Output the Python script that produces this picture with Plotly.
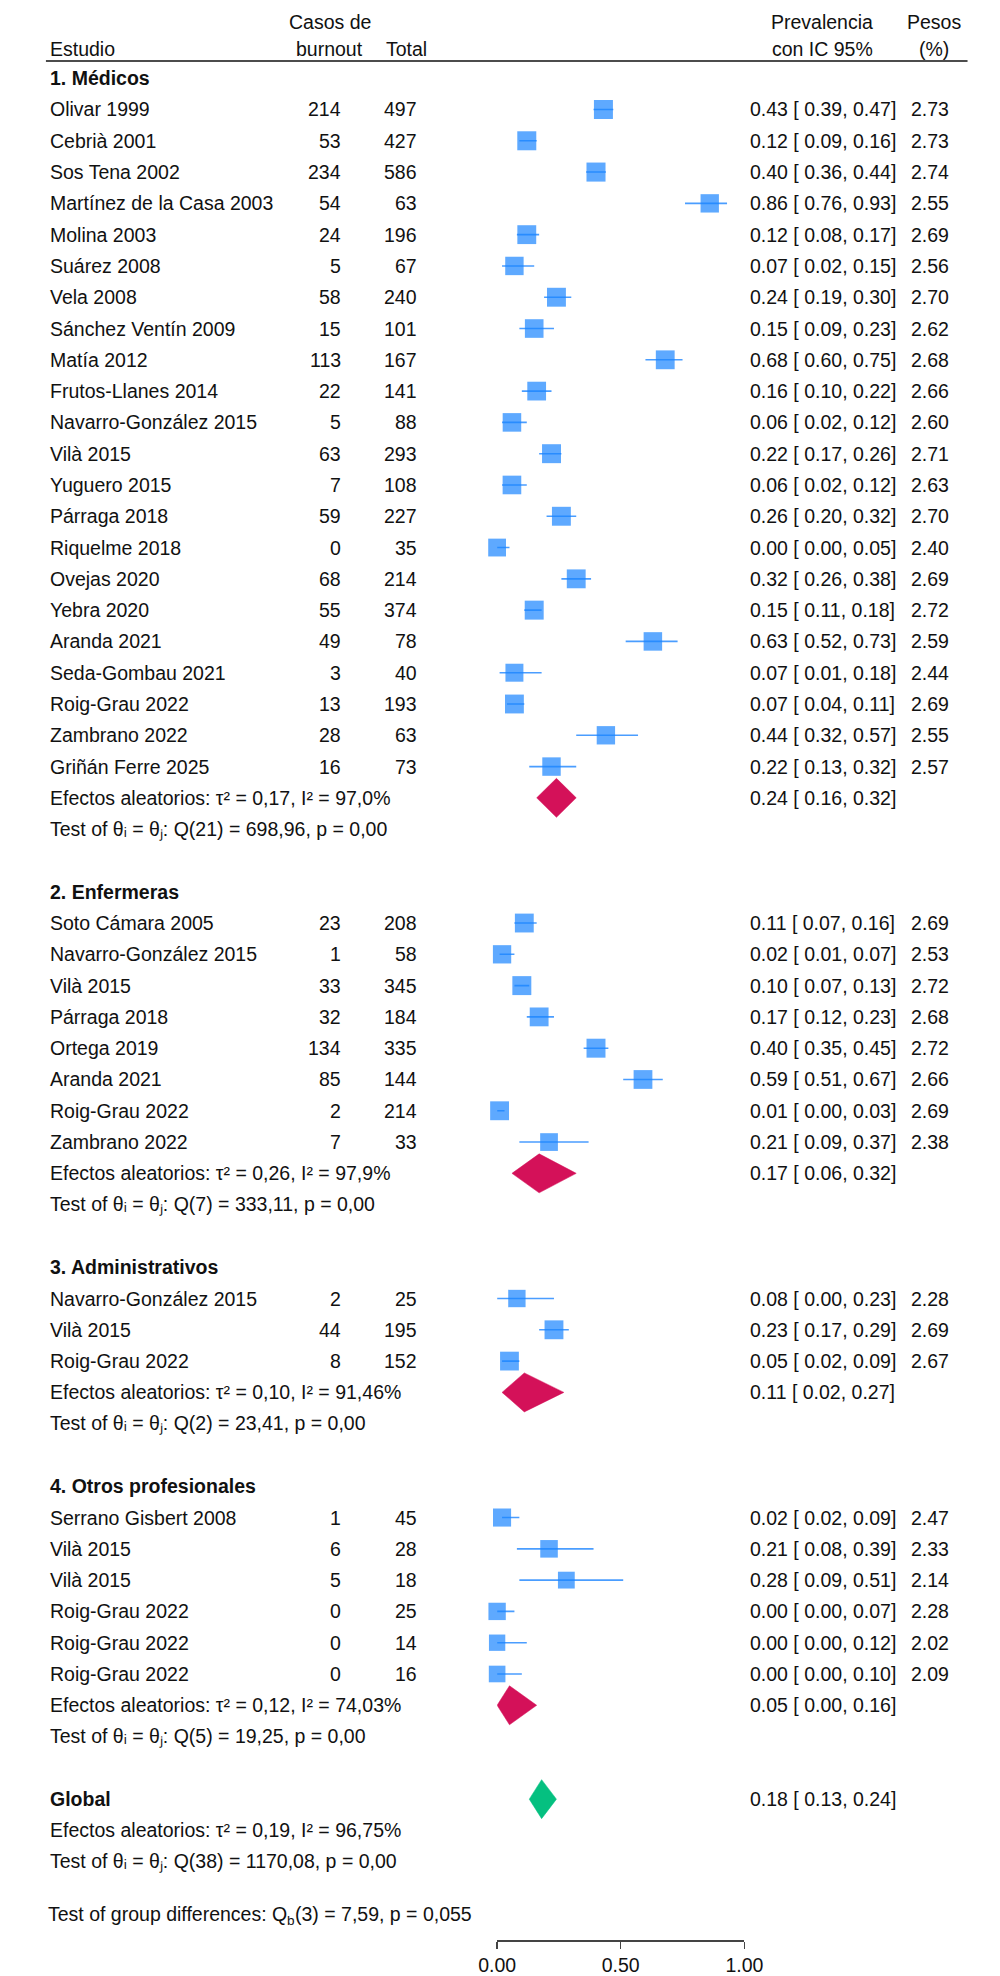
import math
import plotly.graph_objects as go

# ---------------- data ----------------
group_titles = ["1. Médicos", "2. Enfermeras", "3. Administrativos", "4. Otros profesionales"]

med_names = ["Olivar 1999", "Cebrià 2001", "Sos Tena 2002", "Martínez de la Casa 2003", "Molina 2003",
             "Suárez 2008", "Vela 2008", "Sánchez Ventín 2009", "Matía 2012", "Frutos-Llanes 2014",
             "Navarro-González 2015", "Vilà 2015", "Yuguero 2015", "Párraga 2018", "Riquelme 2018",
             "Ovejas 2020", "Yebra 2020", "Aranda 2021", "Seda-Gombau 2021", "Roig-Grau 2022",
             "Zambrano 2022", "Griñán Ferre 2025"]
med_cases = [214, 53, 234, 54, 24, 5, 58, 15, 113, 22, 5, 63, 7, 59, 0, 68, 55, 49, 3, 13, 28, 16]
med_total = [497, 427, 586, 63, 196, 67, 240, 101, 167, 141, 88, 293, 108, 227, 35, 214, 374, 78, 40, 193, 63, 73]
med_est = [0.43, 0.12, 0.40, 0.86, 0.12, 0.07, 0.24, 0.15, 0.68, 0.16, 0.06, 0.22, 0.06, 0.26, 0.00,
           0.32, 0.15, 0.63, 0.07, 0.07, 0.44, 0.22]
med_lo = [0.39, 0.09, 0.36, 0.76, 0.08, 0.02, 0.19, 0.09, 0.60, 0.10, 0.02, 0.17, 0.02, 0.20, 0.00,
          0.26, 0.11, 0.52, 0.01, 0.04, 0.32, 0.13]
med_hi = [0.47, 0.16, 0.44, 0.93, 0.17, 0.15, 0.30, 0.23, 0.75, 0.22, 0.12, 0.26, 0.12, 0.32, 0.05,
          0.38, 0.18, 0.73, 0.18, 0.11, 0.57, 0.32]
med_w = [2.73, 2.73, 2.74, 2.55, 2.69, 2.56, 2.70, 2.62, 2.68, 2.66, 2.60, 2.71, 2.63, 2.70, 2.40,
         2.69, 2.72, 2.59, 2.44, 2.69, 2.55, 2.57]

enf_names = ["Soto Cámara 2005", "Navarro-González 2015", "Vilà 2015", "Párraga 2018", "Ortega 2019",
             "Aranda 2021", "Roig-Grau 2022", "Zambrano 2022"]
enf_cases = [23, 1, 33, 32, 134, 85, 2, 7]
enf_total = [208, 58, 345, 184, 335, 144, 214, 33]
enf_est = [0.11, 0.02, 0.10, 0.17, 0.40, 0.59, 0.01, 0.21]
enf_lo = [0.07, 0.01, 0.07, 0.12, 0.35, 0.51, 0.00, 0.09]
enf_hi = [0.16, 0.07, 0.13, 0.23, 0.45, 0.67, 0.03, 0.37]
enf_w = [2.69, 2.53, 2.72, 2.68, 2.72, 2.66, 2.69, 2.38]

adm_names = ["Navarro-González 2015", "Vilà 2015", "Roig-Grau 2022"]
adm_cases = [2, 44, 8]
adm_total = [25, 195, 152]
adm_est = [0.08, 0.23, 0.05]
adm_lo = [0.00, 0.17, 0.02]
adm_hi = [0.23, 0.29, 0.09]
adm_w = [2.28, 2.69, 2.67]

otr_names = ["Serrano Gisbert 2008", "Vilà 2015", "Vilà 2015", "Roig-Grau 2022", "Roig-Grau 2022", "Roig-Grau 2022"]
otr_cases = [1, 6, 5, 0, 0, 0]
otr_total = [45, 28, 18, 25, 14, 16]
otr_est = [0.02, 0.21, 0.28, 0.00, 0.00, 0.00]
otr_lo = [0.02, 0.08, 0.09, 0.00, 0.00, 0.00]
otr_hi = [0.09, 0.39, 0.51, 0.07, 0.12, 0.10]
otr_w = [2.47, 2.33, 2.14, 2.28, 2.02, 2.09]

pooled_est = [0.24, 0.17, 0.11, 0.05]
pooled_lo = [0.16, 0.06, 0.02, 0.00]
pooled_hi = [0.32, 0.32, 0.27, 0.16]
pooled_tau2 = ["0,17", "0,26", "0,10", "0,12"]
pooled_i2 = ["97,0%", "97,9%", "91,46%", "74,03%"]
pooled_qdf = [21, 7, 2, 5]
pooled_q = ["698,96", "333,11", "23,41", "19,25"]
pooled_p = ["0,00", "0,00", "0,00", "0,00"]

global_est, global_lo, global_hi = 0.18, 0.13, 0.24
global_tau2, global_i2, global_qdf, global_q, global_p = "0,19", "96,75%", 38, "1170,08", "0,00"
diff_df, diff_q, diff_p = 3, "7,59", "0,055"

axis_ticks = [0.0, 0.5, 1.0]
axis_ticklabels = ["0.00", "0.50", "1.00"]

# ---------------- layout constants ----------------
W, H = 1000, 1976
BOTTOM = 36
PLOT_H = H - BOTTOM
Y0, DY = 78.2, 31.29          # pixel centre of row 0 and row pitch
X_NAME, X_CASES, X_TOTAL, X_CI, X_W = 32.5, 335, 413.5, 760, 967
X_QB = 278.5                  # where the subscript "b" of Q_b starts
FONT = "Liberation Sans, Arial, Helvetica, sans-serif"
FS = 19.5
SUB_FS = 13.6
TXT = "#111111"
BLUE = "#1A85FF"
BLUE_LINE = "#4A9DFF"
RED = "#D41159"
GREEN = "#05C080"
DIA_H = 19.5
SQ_K = 19 / math.sqrt(2.73)


def ypix(r):
    return Y0 + DY * r


annotations = []


def txt(xpx, ypx, text, anchor="left", size=FS):
    annotations.append(dict(x=xpx / W, xref="paper", y=ypx, yref="y", text=text,
                            xanchor=anchor, yanchor="middle", showarrow=False,
                            borderpad=0, borderwidth=0,
                            font=dict(family=FONT, size=size, color=TXT)))


def ci_str(e, l, h):
    return f"{e:.2f} [ {l:.2f}, {h:.2f}]"


def het_str(t2, i2):
    return f"Efectos aleatorios: τ² = {t2}, I² = {i2}"


def q_str(df, q, p):
    return f"Test of θᵢ = θⱼ: Q({df}) = {q}, p = {p}"


groups = [
    (med_names, med_cases, med_total, med_est, med_lo, med_hi, med_w),
    (enf_names, enf_cases, enf_total, enf_est, enf_lo, enf_hi, enf_w),
    (adm_names, adm_cases, adm_total, adm_est, adm_lo, adm_hi, adm_w),
    (otr_names, otr_cases, otr_total, otr_est, otr_lo, otr_hi, otr_w),
]

fig = go.Figure()

line_x, line_y = [], []
sq_x, sq_y, sq_s = [], [], []
r = 0
for gi, (names, cases, total, est, lo, hi, w) in enumerate(groups):
    txt(X_NAME, ypix(r), f"<b>{group_titles[gi]}</b>")
    for i in range(len(names)):
        rr = r + 1 + i
        y = ypix(rr)
        txt(X_NAME, y, names[i])
        txt(X_CASES, y, str(cases[i]), "right")
        txt(X_TOTAL, y, str(total[i]), "right")
        txt(X_CI, y, ci_str(est[i], lo[i], hi[i]))
        txt(X_W, y, f"{w[i]:.2f}", "right")
        line_x += [lo[i], hi[i], None]
        line_y += [y, y, None]
        sq_x.append(est[i])
        sq_y.append(y)
        sq_s.append(SQ_K * math.sqrt(w[i]))
    re = r + 1 + len(names)
    ye = ypix(re)
    txt(X_NAME, ye, het_str(pooled_tau2[gi], pooled_i2[gi]))
    txt(X_CI, ye, ci_str(pooled_est[gi], pooled_lo[gi], pooled_hi[gi]))
    txt(X_NAME, ypix(re + 1), q_str(pooled_qdf[gi], pooled_q[gi], pooled_p[gi]))
    fig.add_trace(go.Scatter(
        x=[pooled_lo[gi], pooled_est[gi], pooled_hi[gi], pooled_est[gi], pooled_lo[gi]],
        y=[ye, ye - DIA_H, ye, ye + DIA_H, ye],
        mode="lines", fill="toself", fillcolor=RED, line=dict(color=RED, width=0.5),
        hoverinfo="skip"))
    r = re + 3

# global
yg = ypix(r)
txt(X_NAME, yg, "<b>Global</b>")
txt(X_CI, yg, ci_str(global_est, global_lo, global_hi))
txt(X_NAME, ypix(r + 1), het_str(global_tau2, global_i2))
txt(X_NAME, ypix(r + 2), q_str(global_qdf, global_q, global_p))
fig.add_trace(go.Scatter(
    x=[global_lo, global_est, global_hi, global_est, global_lo],
    y=[yg, yg - DIA_H, yg, yg + DIA_H, yg],
    mode="lines", fill="toself", fillcolor=GREEN, line=dict(color=GREEN, width=0.5),
    hoverinfo="skip"))

# test of group differences: "Q" with subscript "b", built from three pieces
yd = ypix(r + 3.67)
txt(X_QB, yd, "Test of group differences: Q", "right")
txt(X_QB, yd + 6.5, "b", size=SUB_FS)
txt(X_QB + 8.5, yd, f"({diff_df}) = {diff_q}, p = {diff_p}")

fig.add_trace(go.Scatter(x=line_x, y=line_y, mode="lines",
                         line=dict(color=BLUE_LINE, width=1.6), hoverinfo="skip"))
fig.add_trace(go.Scatter(x=sq_x, y=sq_y, mode="markers", cliponaxis=False,
                         marker=dict(symbol="square", size=sq_s, color=BLUE, line=dict(width=0)),
                         hoverinfo="skip"))

# header
txt(X_NAME, 48.5, "Estudio")
txt(323, 22, "Casos de", "center")
txt(323, 48.5, "burnout", "center")
txt(403, 48.5, "Total", "center")
txt(835, 22, "Prevalencia", "center")
txt(835, 48.5, "con IC 95%", "center")
txt(951, 22, "Pesos", "center")
txt(951, 48.5, "(%)", "center")

shapes = [dict(type="line", xref="paper", yref="y", x0=28 / W, x1=986 / W, y0=61, y1=61,
               line=dict(color="#111111", width=1.6))]

fig.update_layout(
    width=W, height=H,
    margin=dict(l=0, r=0, t=0, b=BOTTOM),
    paper_bgcolor="white", plot_bgcolor="white",
    showlegend=False,
    annotations=annotations,
    shapes=shapes,
    xaxis=dict(domain=[497 / W, 754 / W], range=[0, 1], showgrid=False, zeroline=False,
               showline=True, linecolor="#444444", linewidth=1.5,
               ticks="outside", ticklen=7, tickwidth=1.5, tickcolor="#444444",
               tickvals=axis_ticks, ticktext=axis_ticklabels,
               tickfont=dict(family=FONT, size=FS, color=TXT), fixedrange=True),
    yaxis=dict(range=[PLOT_H, 0], visible=False, fixedrange=True),
)

fig.write_html("out.html", config={"displayModeBar": False, "staticPlot": True},
               post_script="document.body.style.margin='0px';")
